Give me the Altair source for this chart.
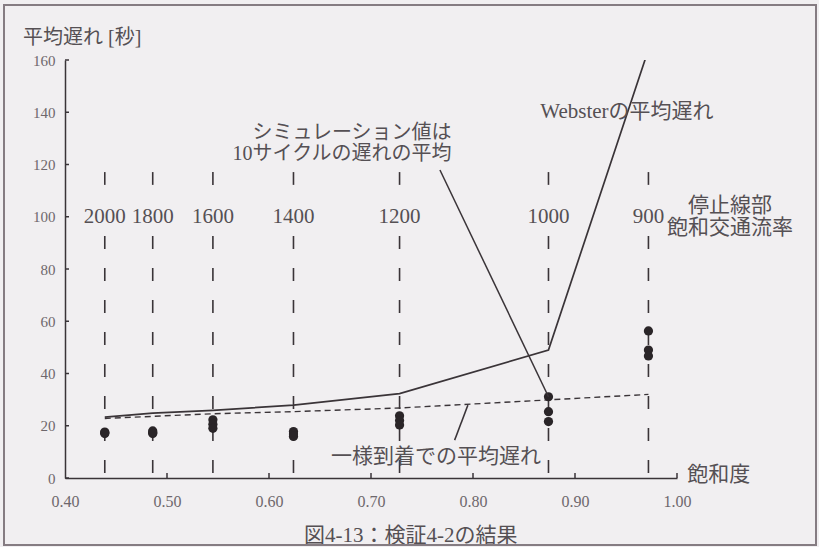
import altair as alt
import pandas as pd

# Stop-line saturation flow rates and the resulting degree of saturation
flow_labels = ["2000", "1800", "1600", "1400", "1200", "1000", "900"]
saturation = [0.439, 0.486, 0.545, 0.624, 0.728, 0.874, 0.972]

# Average delay [s]: Webster formula and uniform-arrival delay
webster_delay = [23.3, 24.8, 25.9, 27.9, 32.3, 49.0, 164.0]
uniform_delay = [22.8, 23.6, 24.6, 25.4, 26.8, 29.9, 32.0]

# Simulation runs (each value is the mean delay over 10 cycles)
sim_run1 = [17.6, 18.0, 22.3, 17.8, 23.8, 31.1, 56.3]
sim_run2 = [17.3, 17.4, 20.6, 16.8, 22.0, 25.4, 49.0]
sim_run3 = [17.0, 17.0, 19.0, 15.9, 20.3, 21.6, 46.7]

y_tick_values = [0, 20, 40, 60, 80, 100, 120, 140, 160]
x_tick_values = [0.40, 0.50, 0.60, 0.70, 0.80, 0.90, 1.00]

FONT = "Liberation Serif, Noto Sans CJK JP"
TEXT = "#555054"
LABEL = "#6e676c"
INK = "#3a3438"
DOT = "#2a2528"
BG = "#f1eff1"

W, H = 612, 418
xs = alt.Scale(domain=[0.4, 1.0], nice=False, zero=False)
ys = alt.Scale(domain=[0, 160], nice=False, zero=False)


def X(field=None, **kw):
    return alt.X(field, type="quantitative", scale=xs, **kw)


def Y(field=None, **kw):
    return alt.Y(field, type="quantitative", scale=ys, **kw)


def label(text, x, y, size=21, align="center", color=TEXT):
    return alt.Chart().mark_text(
        text=text, font=FONT, fontSize=size, align=align,
        baseline="middle", color=color,
    ).encode(x=alt.datum(x, scale=xs), y=alt.datum(y, scale=ys))


curves = pd.DataFrame({
    "sat": saturation,
    "flow": flow_labels,
    "webster": webster_delay,
    "uniform": uniform_delay,
    "top0": 117.1,
    "top1": 112.2,
    "low0": 92.6,
    "low1": 0.0,
})

sims = pd.DataFrame({
    "sat": saturation * 3,
    "delay": sim_run1 + sim_run2 + sim_run3,
})

# Axes: domain lines and labels, ticks drawn inward separately
axes = alt.Chart(curves).mark_point(opacity=0).encode(
    x=X("sat", axis=alt.Axis(
        values=x_tick_values, format=".2f", title=None, grid=False,
        ticks=False, tickSize=0, labelPadding=15, labelFont=FONT,
        labelFontSize=16, labelColor=LABEL, domainColor=INK,
        domainWidth=1.5, labelFlush=False)),
    y=Y("uniform", axis=alt.Axis(
        values=y_tick_values, format="d", title=None, grid=False,
        ticks=False, tickSize=0, labelPadding=10, labelFont=FONT,
        labelFontSize=15, labelColor=LABEL, domainColor=INK,
        domainWidth=1.5, labelFlush=False)),
)

y_ticks = alt.Chart(pd.DataFrame({"v": y_tick_values})).mark_rule(
    color=INK, strokeWidth=1.5
).encode(x=alt.value(0), x2=alt.value(4), y=Y("v"))

x_ticks = alt.Chart(pd.DataFrame({"v": x_tick_values[1:]})).mark_rule(
    color=INK, strokeWidth=1.5
).encode(x=X("v"), y=alt.value(H), y2=alt.value(H - 5))

# Dashed guides at each saturation, broken around the flow-rate labels
guide_top = alt.Chart(curves).mark_rule(
    color=INK, strokeWidth=1.6, strokeDash=[13, 19]
).encode(x=X("sat"), y=Y("top0"), y2="top1:Q")

guide_low = alt.Chart(curves).mark_rule(
    color=INK, strokeWidth=1.6, strokeDash=[13, 19]
).encode(x=X("sat"), y=Y("low0"), y2="low1:Q")

flow_text = alt.Chart(curves).mark_text(
    font=FONT, fontSize=21, color=TEXT, baseline="middle"
).encode(x=X("sat"), y=alt.datum(100, scale=ys), text="flow:N")

webster = alt.Chart(curves).mark_line(
    color=INK, strokeWidth=1.7, clip=True
).encode(x=X("sat"), y=Y("webster"))

uniform = alt.Chart(curves).mark_line(
    color=INK, strokeWidth=1.4, strokeDash=[6, 4]
).encode(x=X("sat"), y=Y("uniform"))

dots = alt.Chart(sims).mark_circle(
    color=DOT, size=85, opacity=1
).encode(x=X("sat"), y=Y("delay"))

sim_leader = alt.Chart(pd.DataFrame({
    "sat": [0.7676, 0.874], "d": [117.9, 31.1]
})).mark_line(color=INK, strokeWidth=1.5).encode(x=X("sat"), y=Y("d"))

uniform_leader = alt.Chart(pd.DataFrame({
    "sat": [0.782, 0.795], "d": [14.5, 27.9]
})).mark_line(color=INK, strokeWidth=1.5).encode(x=X("sat"), y=Y("d"))

texts = [
    label("平均遅れ [秒]", 0.3588, 168.4, size=20, align="left"),
    label("シミュレーション値は", 0.779, 132.2, size=20, align="right"),
    label("10サイクルの遅れの平均", 0.779, 124.2, size=20, align="right"),
    label("Websterの平均遅れ", 0.866, 140.1, align="left"),
    label("停止線部", 1.052, 104.1),
    label("飽和交通流率", 1.052, 95.7),
    label("一様到着での平均遅れ", 0.7637, 8.0),
    label("飽和度", 1.01, 1.1, align="left"),
    label("図4-13：検証4-2の結果", 0.739, -22.3),
]

frame = alt.Chart().mark_rect(
    fillOpacity=0, stroke="#857c82", strokeWidth=2
).encode(x=alt.value(-61), x2=alt.value(751), y=alt.value(-55), y2=alt.value(485))

chart = alt.layer(
    axes, guide_top, guide_low, flow_text, uniform, webster, dots,
    sim_leader, uniform_leader, y_ticks, x_ticks, *texts, frame,
).properties(
    width=W, height=H,
    autosize=alt.AutoSizeParams(type="none"),
    padding={"left": 65, "top": 60, "right": 142, "bottom": 69},
    background=BG,
).configure_view(strokeWidth=0)

chart.save("out.html", embed_options={"renderer": "svg", "actions": False})
